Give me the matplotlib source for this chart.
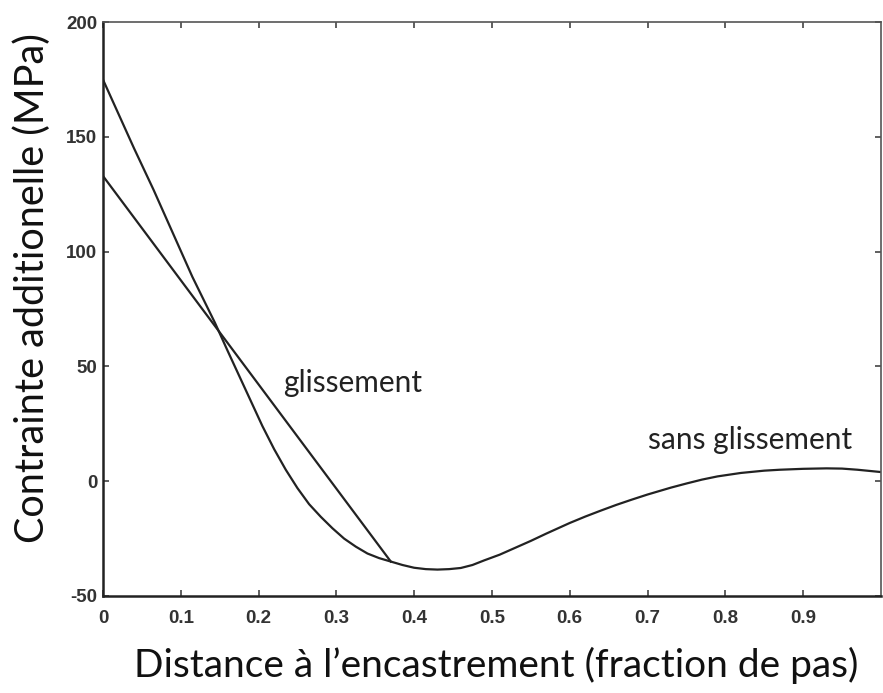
import matplotlib
matplotlib.use("Agg")
import matplotlib.pyplot as plt

# Courbes
x_sans = [0, 0.02, 0.04, 0.065, 0.09, 0.115, 0.144, 0.16, 0.175, 0.19, 0.205, 0.22, 0.235,
          0.25, 0.265, 0.28, 0.295, 0.31, 0.325, 0.34, 0.355, 0.37, 0.385,
          0.40, 0.415, 0.43, 0.445, 0.46, 0.475, 0.49, 0.51, 0.53, 0.55, 0.57, 0.585, 0.60,
          0.62, 0.64, 0.66, 0.68, 0.70, 0.73, 0.75, 0.77, 0.79, 0.82, 0.85, 0.87, 0.90,
          0.93, 0.95, 0.97, 1.0]
y_sans = [175, 160, 145, 127, 108, 89, 69, 57, 46, 35, 24, 14, 5,
          -3, -10, -15.5, -20.5, -25, -28.5, -31.5, -33.5, -35, -36.5,
          -37.7, -38.3, -38.5, -38.3, -37.8, -36.5, -34.5, -32, -29, -26, -22.8, -20.5, -18.2,
          -15.4, -12.8, -10.3, -8, -5.8, -2.8, -1, 0.7, 2.1, 3.6, 4.6, 5, 5.4,
          5.6, 5.5, 5, 4]

# glissement : droite jusqu'au raccord, puis confondue avec l'autre courbe
x_glis = [0, 0.37]
y_glis = [133, -35]

xticks = [0, 0.1, 0.2, 0.3, 0.4, 0.5, 0.6, 0.7, 0.8, 0.9]
xtick_labels = ["0", "0.1", "0.2", "0.3", "0.4", "0.5", "0.6", "0.7", "0.8", "0.9"]
yticks = [-50, 0, 50, 100, 150, 200]
ytick_labels = ["-50", "0", "50", "100", "150", "200"]

fig = plt.figure(figsize=(8.83, 6.93), dpi=100)
ax = fig.add_axes([0.1166, 0.140, 0.881, 0.828])

ax.plot(x_sans, y_sans, color="#222222", linewidth=1.6)
ax.plot(x_glis, y_glis, color="#222222", linewidth=1.6)

ax.set_xlim(0, 1)
ax.set_ylim(-50, 200)
ax.set_xticks(xticks)
ax.set_xticklabels(xtick_labels)
ax.set_yticks(yticks)
ax.set_yticklabels(ytick_labels)

ax.tick_params(direction="in", top=True, right=True, length=4, width=1.2,
               colors="#444444")
ax.tick_params(axis="x", pad=10)
ax.tick_params(axis="y", pad=4)
for lab in ax.get_xticklabels() + ax.get_yticklabels():
    lab.set_fontfamily("Liberation Sans")
    lab.set_fontweight("bold")
    lab.set_fontsize(13.5)
    lab.set_color("#333333")

for side, sp in ax.spines.items():
    sp.set_color("#555555" if side in ("top", "right") else "#222222")
    sp.set_linewidth(1.2 if side in ("top", "right") else 1.8)

ax.text(0.231, 43, "glissement", fontsize=21.5, family="Lato", color="#222222",
        va="center", ha="left")
ax.text(0.701, 18, "sans glissement", fontsize=21.5, family="Lato", color="#222222",
        va="center", ha="left")

fig.text(0.562, 0.04, "Distance à l\u2019encastrement (fraction de pas)",
         fontsize=28, family="Lato", ha="center", va="center", color="#111111")
fig.text(0.036, 0.584, "Contrainte additionelle (MPa)", fontsize=28.5, family="Lato",
         rotation=90, ha="center", va="center", color="#111111")

fig.savefig("out.png", dpi=100)
